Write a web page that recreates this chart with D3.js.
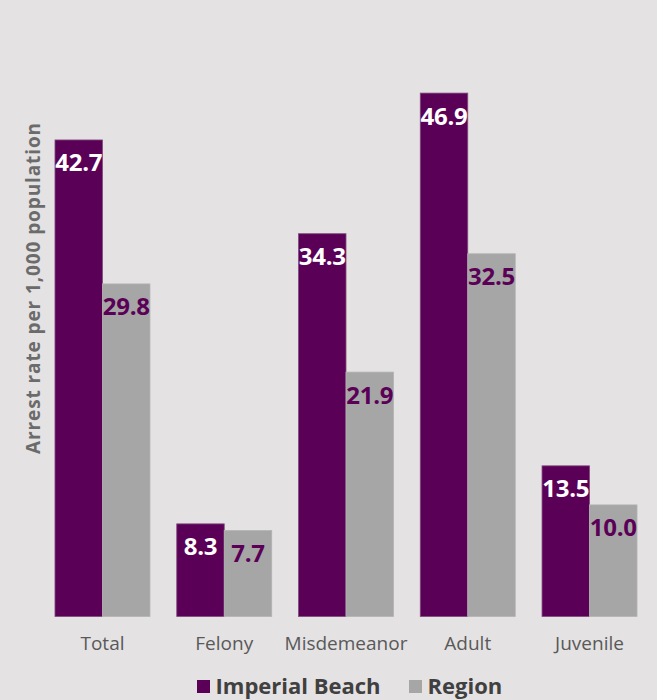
<!DOCTYPE html>
<html>
<head>
<meta charset="utf-8">
<script src="https://cdn.jsdelivr.net/npm/d3@7/dist/d3.min.js"></script>
<style>
  html, body { margin: 0; padding: 0; background: #e4e2e3; }
  svg { display: block; }
</style>
</head>
<body>
<svg id="chart" width="657" height="700"></svg>
<script>
const categories = ["Total", "Felony", "Misdemeanor", "Adult", "Juvenile"];
const imperialBeach = [42.7, 8.3, 34.3, 46.9, 13.5];
const region = [29.8, 7.7, 21.9, 32.5, 10.0];
const seriesNames = ["Imperial Beach", "Region"];
const yTitle = "Arrest rate per 1,000 population";

const colors = { "Imperial Beach": "#5b0057", "Region": "#a6a6a6" };
const labelColors = { "Imperial Beach": "#ffffff", "Region": "#5b0057" };

const svg = d3.select("#chart");
const W = 657, H = 700;
const baseY = 616.5;

const series = [
  { name: seriesNames[0], values: imperialBeach },
  { name: seriesNames[1], values: region }
];

const x0 = d3.scaleBand().domain(categories).range([41.6, 650.4]).paddingInner(0.22).paddingOuter(0.11);
const x1 = d3.scaleBand().domain(seriesNames).range([0, x0.bandwidth()]).padding(0);
const y = d3.scaleLinear().domain([0, 50]).range([baseY, baseY - 558]);

const groups = svg.append("g").selectAll("g")
  .data(categories)
  .join("g")
  .attr("transform", d => `translate(${x0(d)},0)`);

groups.selectAll("rect")
  .data((c, i) => series.map(s => ({ name: s.name, value: s.values[i] })))
  .join("rect")
  .attr("x", d => x1(d.name))
  .attr("y", d => y(d.value))
  .attr("width", x1.bandwidth())
  .attr("height", d => y(0) - y(d.value))
  .attr("fill", d => colors[d.name])
  .attr("stroke", d => d.name === "Imperial Beach" ? "#7e4a7b" : "#b3b3b3")
  .attr("stroke-width", 0.8);

groups.selectAll("text.val")
  .data((c, i) => series.map(s => ({ name: s.name, value: s.values[i] })))
  .join("text")
  .attr("class", "val")
  .attr("x", d => x1(d.name) + x1.bandwidth() / 2)
  .attr("y", d => y(d.value) + 31.5)
  .attr("text-anchor", "middle")
  .attr("font-family", "'Open Sans', sans-serif")
  .attr("font-weight", "bold")
  .attr("font-size", 24)
  .attr("letter-spacing", -0.3)
  .attr("fill", d => labelColors[d.name])
  .text(d => d3.format(".1f")(d.value));

// x axis labels
const xAxis = d3.axisBottom(x0).tickSize(0).tickPadding(0);
const gx = svg.append("g").attr("transform", `translate(0,${baseY})`).call(xAxis);
gx.select(".domain").remove();
gx.selectAll("text")
  .attr("dy", null)
  .attr("y", 33.5)
  .attr("font-family", "'Open Sans', sans-serif")
  .attr("font-size", 19)
  .attr("fill", "#595959");

// y title
svg.append("text")
  .attr("transform", `translate(40,288) rotate(-90)`)
  .attr("text-anchor", "middle")
  .attr("font-family", "'Open Sans', sans-serif")
  .attr("font-weight", "bold")
  .attr("font-size", 19)
  .attr("letter-spacing", 0.9)
  .attr("fill", "#6b6b6b")
  .text(yTitle);

// legend
const legend = svg.append("g");
const legendX = [197, 409];
series.forEach((s, i) => {
  const g = legend.append("g").attr("transform", `translate(${legendX[i]},0)`);
  g.append("rect").attr("x", 0).attr("y", 680).attr("width", 13).attr("height", 13).attr("fill", colors[s.name]);
  g.append("text")
    .attr("x", 18.5)
    .attr("y", 694)
    .attr("font-family", "'Open Sans', sans-serif")
    .attr("font-weight", "bold")
    .attr("font-size", 22)
    .attr("fill", "#404040")
    .text(s.name);
});
</script>
</body>
</html>
